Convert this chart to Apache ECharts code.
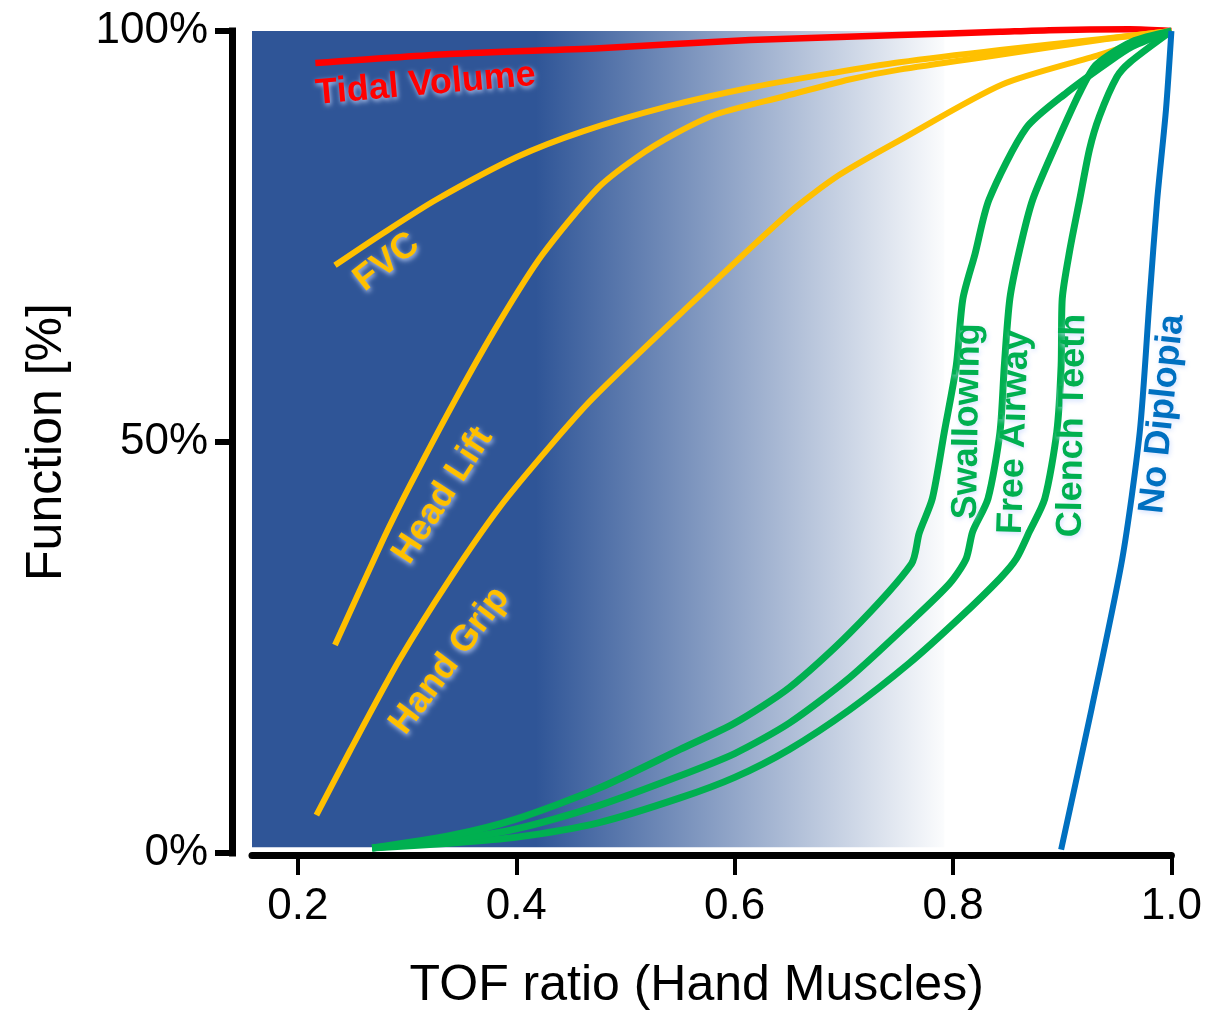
<!DOCTYPE html>
<html>
<head>
<meta charset="utf-8">
<script src="https://cdn.jsdelivr.net/npm/echarts@6/dist/echarts.min.js"></script>
<style>
  html, body { margin: 0; padding: 0; background: #ffffff; }
  #chart { width: 1205px; height: 1016px; }
</style>
</head>
<body>
<div id="chart"></div>
<script>
// ---------- data (x = TOF ratio, y = function %) ----------
const xTicks = [0.2, 0.4, 0.6, 0.8, 1.0];
const yTicks = [0, 50, 100];

const tidalVolume = [[0.216,96.1],[0.339,97.2],[0.476,97.9],[0.614,98.9],[0.751,99.5],[0.843,99.9],[0.888,100.1],[0.962,100.2],[1.0,100]];
const fvc = [[0.234,71.5],[0.278,75.4],[0.327,79.5],[0.401,84.7],[0.461,87.8],[0.538,90.8],[0.614,93.1],[0.690,94.9],[0.751,96.2],[0.843,97.7],[0.934,99.0],[1.0,100]];
const headLift = [[0.234,25.3],[0.278,38.1],[0.303,44.8],[0.344,55.1],[0.385,64.7],[0.424,72.8],[0.474,80.8],[0.510,84.6],[0.547,87.6],[0.584,89.9],[0.644,92.0],[0.705,94.1],[0.751,95.3],[0.843,97.1],[0.934,98.9],[1.0,100]];
const handGrip = [[0.217,4.6],[0.248,12.5],[0.293,23.5],[0.339,33.3],[0.385,42.1],[0.431,49.5],[0.470,55.3],[0.552,65.8],[0.650,77.9],[0.696,82.5],[0.751,86.7],[0.845,93.5],[0.934,97.1],[1.0,100]];
const swallowing = [[0.268,0.6],[0.339,2.1],[0.399,4.1],[0.476,7.9],[0.550,12.6],[0.600,15.8],[0.650,20.1],[0.705,26.7],[0.762,35.2],[0.769,38.9],[0.781,43.1],[0.792,51.2],[0.803,59.3],[0.809,67.4],[0.820,72.8],[0.833,79.5],[0.867,88.2],[0.904,92.5],[0.941,96.1],[0.964,98.1],[1.0,100]];
const freeAirway = [[0.268,0.6],[0.339,1.6],[0.399,2.9],[0.476,5.8],[0.550,9.4],[0.600,12.1],[0.650,15.8],[0.705,21.3],[0.760,28.0],[0.797,32.8],[0.812,35.8],[0.818,39.1],[0.832,43.1],[0.843,51.2],[0.847,59.3],[0.852,67.4],[0.861,73.4],[0.873,79.5],[0.895,86.4],[0.916,92.5],[0.931,95.9],[0.964,98.7],[1.0,100]];
const clenchTeeth = [[0.268,0.6],[0.339,1.2],[0.399,1.9],[0.476,3.7],[0.550,6.7],[0.600,9.2],[0.650,12.6],[0.705,17.4],[0.760,23.1],[0.806,28.6],[0.843,33.4],[0.858,35.8],[0.870,39.1],[0.884,43.1],[0.895,51.2],[0.899,59.3],[0.900,67.4],[0.907,73.4],[0.916,79.5],[0.925,85.6],[0.934,89.6],[0.950,94.4],[0.962,96.2],[1.0,100]];
const noDiplopia = [[0.899,0.4],[0.927,17.6],[0.955,35.8],[0.971,51.2],[0.980,67.4],[0.987,79.5],[0.995,90.4],[1.0,100]];

// background band (x range, y range) in data units
const bandX = [0.158, 0.792];
const bandY = [0.7, 100];

// curve labels: text and anchor in data units
const labelTexts = ['Tidal Volume','FVC','Head Lift','Hand Grip','Swallowing','Free Airway','Clench Teeth','No Diplopia'];
const labelAnchors = [[0.317,93.5],[0.2815,71.9],[0.3327,43.5],[0.3391,23.4],[0.8133,52.5],[0.8563,51.2],[0.9094,52.0],[0.9918,53.4]];

// ---------- styling ----------
const FONT = 'Liberation Sans, Arial, Helvetica, sans-serif';
const RED = '#ff0000', YEL = '#ffc000', GRN = '#00b050', BLU = '#0070c0', NAVY = '#2f5597';
const labelStyle = [
  {color: RED, angle: 5},
  {color: YEL, angle: 38},
  {color: YEL, angle: 57},
  {color: YEL, angle: 53},
  {color: GRN, angle: 89},
  {color: GRN, angle: 88},
  {color: GRN, angle: 89},
  {color: BLU, angle: 84}
];

function lineSeries(name, data, color, width, z) {
  return {
    name: name, type: 'line', data: data, showSymbol: false, symbol: 'none',
    smooth: 0.25, clip: false, z: z,
    lineStyle: {color: color, width: width, cap: 'butt', join: 'round'}
  };
}

const chart = echarts.init(document.getElementById('chart'), null, {renderer: 'canvas'});

const option = {
  animation: false,
  backgroundColor: '#ffffff',
  textStyle: {fontFamily: FONT},
  grid: {left: 252, right: 33, top: 31, bottom: 160.5},
  xAxis: {
    type: 'value', min: bandX[0], max: 1.0, offset: 2,
    splitLine: {show: false},
    axisLine: {show: true, onZero: false, lineStyle: {color: '#000', width: 7}},
    axisTick: {show: true, length: 20, customValues: xTicks, lineStyle: {color: '#000', width: 4}},
    axisLabel: {customValues: xTicks, formatter: v => v.toFixed(1), fontSize: 44, color: '#000', margin: 30, fontFamily: FONT},
    name: 'TOF ratio (Hand Muscles)', nameLocation: 'middle', nameGap: 106,
    nameTextStyle: {fontSize: 50, color: '#000', fontFamily: FONT, padding: [0, 30, 0, 0]}
  },
  yAxis: {
    type: 'value', min: 0, max: 100, offset: 20,
    splitLine: {show: false},
    axisLine: {show: true, lineStyle: {color: '#000', width: 7, cap: 'square'}},
    axisTick: {show: true, length: 17, customValues: yTicks, lineStyle: {color: '#000', width: 6}},
    axisLabel: {customValues: yTicks, formatter: v => v + '%', fontSize: 44, color: '#000', margin: 24, fontFamily: FONT},
    name: 'Function [%]', nameLocation: 'middle', nameGap: 160,
    nameTextStyle: {fontSize: 50, color: '#000', fontFamily: FONT}
  },
  series: [
    {
      type: 'line', data: [], z: 1, silent: true,
      markArea: {
        silent: true,
        itemStyle: {
          opacity: 1,
          color: new echarts.graphic.LinearGradient(0, 0, 1, 0, [
            {offset: 0, color: NAVY},
            {offset: 0.41, color: NAVY},
            {offset: 1, color: '#fbfcfd'}
          ])
        },
        data: [[{coord: [bandX[0], bandY[0]]}, {coord: [bandX[1], bandY[1]]}]]
      }
    },
    lineSeries('Tidal Volume', tidalVolume, RED, 6.5, 3),
    lineSeries('FVC', fvc, YEL, 6, 3),
    lineSeries('Head Lift', headLift, YEL, 6, 3),
    lineSeries('Hand Grip', handGrip, YEL, 6, 3),
    lineSeries('Clench Teeth', clenchTeeth, GRN, 7, 4),
    lineSeries('Free Airway', freeAirway, GRN, 7, 4),
    lineSeries('Swallowing', swallowing, GRN, 7, 4),
    lineSeries('No Diplopia', noDiplopia, BLU, 6, 5)
  ]
};
chart.setOption(option);

// curve labels placed through the grid's coordinate system
const graphics = labelTexts.map((t, i) => {
  const p = chart.convertToPixel({gridIndex: 0}, labelAnchors[i]);
  const st = labelStyle[i];
  return {
    type: 'text', x: p[0], y: p[1], rotation: st.angle * Math.PI / 180, z: 100,
    style: {
      text: t, fill: st.color,
      fontSize: 36, fontWeight: 'bold', fontStyle: 'normal', fontFamily: FONT,
      align: 'center', verticalAlign: 'middle',
      textShadowColor: 'rgba(205,220,255,0.85)', textShadowBlur: 5,
      textShadowOffsetX: 1, textShadowOffsetY: 2
    }
  };
});
chart.setOption({graphic: graphics});
</script>
</body>
</html>
